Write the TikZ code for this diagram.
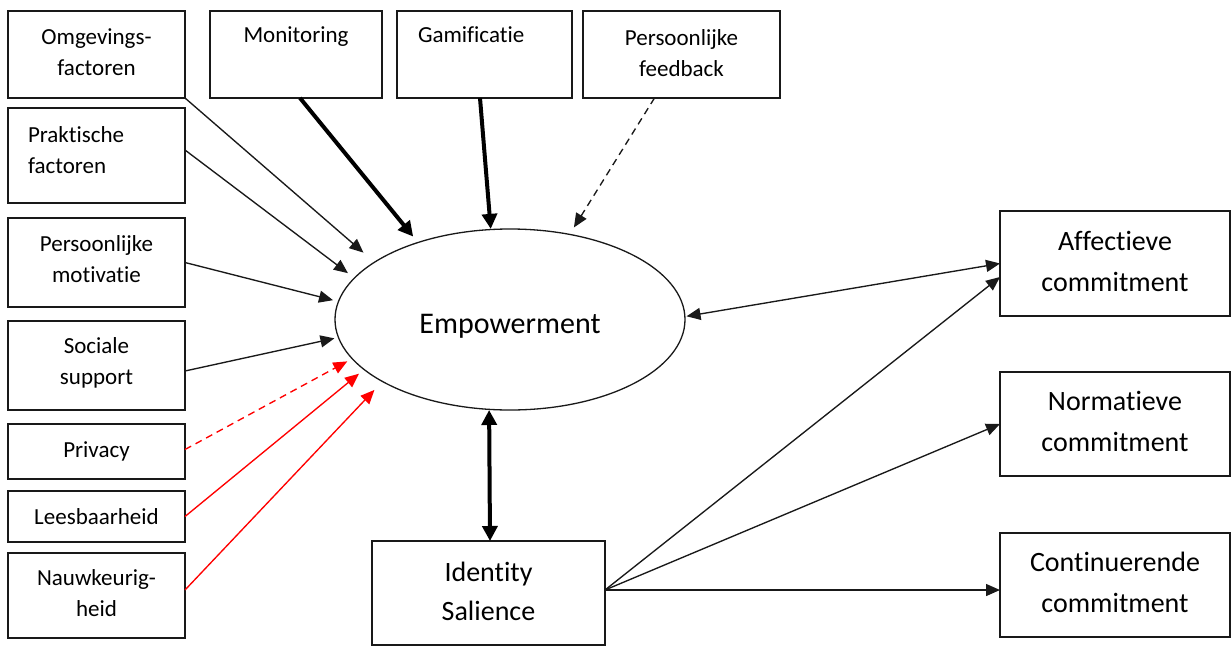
\documentclass[tikz,border=0pt]{standalone}
\usepackage{fontspec}
\setmainfont{Carlito}[Ligatures={TeX,NoCommon}]
\usetikzlibrary{arrows.meta,calc,shapes.geometric}
\definecolor{linecol}{RGB}{25,25,25}
\definecolor{redline}{RGB}{255,0,0}
\newcommand\dpt[1]{\rule[-#1]{0pt}{#1}}
\begin{document}
\begin{tikzpicture}[x=1pt,y=-1pt,
  box/.style={draw=linecol, line width=1.3pt, inner sep=0pt, outer sep=0pt, align=center,
    font=\fontsize{23}{31}\selectfont},
  bigbox/.style={box, font=\fontsize{28}{41}\selectfont},
  arr/.style={draw=linecol, line width=1.35pt, -{Triangle[length=14pt,width=12pt]}},
  heavy/.style={draw=black, line width=4pt, -{Triangle[length=15pt,width=15pt]}},
  redarr/.style={draw=redline, line width=1.35pt, -{Triangle[length=14pt,width=12pt]}},
  dashline/.style={dash pattern=on 7pt off 5pt}
]
\useasboundingbox (0,0) rectangle (1232,646);
\fill[white] (0,0) rectangle (1232,646);

% top row
\node[box, minimum width=177pt, minimum height=87pt] (omg) at (96.5,54.5) {Omgevings-\\factoren\dpt{4pt}};
\node[box, minimum width=172pt, minimum height=87pt] (mon) at (296,54.5) {Monitoring\\\strut};
\node[box, minimum width=175pt, minimum height=87pt, text width=133pt, align=left] (gam) at (484.5,54.5) {Gamificatie\\\strut};
\node[box, minimum width=197pt, minimum height=87pt] (fb) at (681.5,54.5) {Persoonlijke\\feedback\dpt{3pt}};

% left column
\node[box, minimum width=177pt, minimum height=95pt, text width=137pt, align=left] (prak) at (96.5,155.5) {Praktische\\factoren\dpt{11pt}};
\node[box, minimum width=177pt, minimum height=89pt] (mot) at (96.5,262.5) {Persoonlijke\\motivatie\dpt{6pt}};
\node[box, minimum width=177pt, minimum height=89pt] (soc) at (96.5,365.5) {Sociale\\support\dpt{9pt}};
\node[box, minimum width=177pt, minimum height=55pt] (priv) at (96.5,451.5) {Privacy};
\node[box, minimum width=177pt, minimum height=51pt] (lees) at (96.5,516.5) {Leesbaarheid};
\node[box, minimum width=177pt, minimum height=85pt] (nauw) at (96.5,595.5) {Nauwkeurig-\\heid\dpt{4pt}};

% centre
\node[ellipse, draw=linecol, line width=1.3pt, minimum width=350pt, minimum height=181pt, inner sep=0pt,
  font=\fontsize{30}{36}\selectfont, text height=30pt, text depth=3pt] (emp) at (510,319.5) {Empowerment};
\node[bigbox, minimum width=233pt, minimum height=104pt, font=\fontsize{28}{39}\selectfont] (id) at (488.5,593) {Identity\\Salience\dpt{4pt}};

% right column
\node[bigbox, minimum width=230pt, minimum height=105pt] (aff) at (1115,263.5) {Affectieve\\commitment\dpt{5pt}};
\node[bigbox, minimum width=230pt, minimum height=104pt] (norm) at (1115,424) {Normatieve\\commitment\dpt{5pt}};
\node[bigbox, minimum width=230pt, minimum height=104pt] (cont) at (1115,585) {Continuerende\\commitment\dpt{5pt}};

% arrows into Empowerment
\draw[arr, shorten >=14pt] (omg.south east) -- (emp.157.7);
\draw[arr, shorten >=7.5pt] ([yshift=5.5pt]prak.east) -- (emp.165.1);
\draw[arr, shorten >=5pt] (mot.east) -- (emp.174.7);
\draw[arr, shorten >=3.5pt] ([yshift=-5.5pt]soc.east) -- (emp.186);
\draw[redarr, dashline, shorten >=5pt] ([yshift=2pt]priv.east) -- (emp.194.4);
\draw[redarr, shorten >=6pt] (lees.east) -- (emp.199.6);
\draw[redarr, shorten >=11pt] ([yshift=5.5pt]nauw.east) -- (emp.206.2);
\draw[heavy, shorten >=7pt] ([xshift=4pt]mon.south) -- (emp.140.3);
\draw[heavy] ([xshift=-4.5pt]gam.south) -- (emp.102.5);
\draw[arr, dashline, shorten >=7.5pt] ([xshift=-27pt]fb.south) -- (emp.55.5);

% Empowerment <-> others
\draw[arr, {Triangle[length=14pt,width=12pt]}-{Triangle[length=14pt,width=12pt]}, shorten <=1pt] (emp.1.1) -- (aff.west);
\draw[heavy, {Triangle[length=15pt,width=15pt]}-{Triangle[length=15pt,width=15pt]}] (emp.257.5) -- ([xshift=1.5pt]id.north);

% Identity Salience -> commitments
\draw[arr] ([yshift=3pt]id.east) -- ([yshift=-13.5pt]aff.west);
\draw[arr] ([yshift=3pt]id.east) -- (norm.west);
\draw[arr] ([yshift=3pt]id.east) -- ([yshift=-5pt]cont.west);
\end{tikzpicture}
\end{document}
